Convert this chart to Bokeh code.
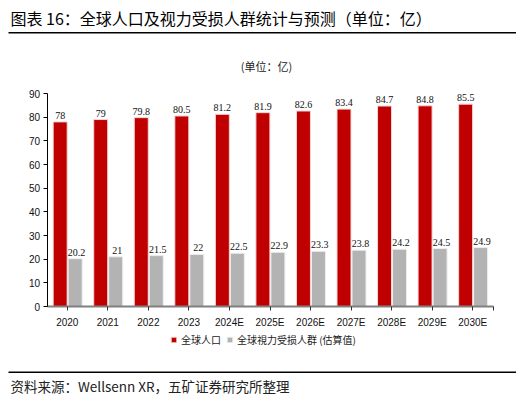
from bokeh.plotting import figure
from bokeh.models import (ColumnDataSource, Range1d, Legend, LegendItem,
                          LabelSet, Label, BoxAnnotation)
from bokeh.transform import dodge
from bokeh.embed import file_html
from bokeh.resources import INLINE

# data (亿)
years = ["2020", "2021", "2022", "2023", "2024E", "2025E", "2026E",
         "2027E", "2028E", "2029E", "2030E"]
population = [78, 79, 79.8, 80.5, 81.2, 81.9, 82.6, 83.4, 84.7, 84.8, 85.5]
impaired = [20.2, 21, 21.5, 22, 22.5, 22.9, 23.3, 23.8, 24.2, 24.5, 24.9]
y_ticks = [0, 10, 20, 30, 40, 50, 60, 70, 80, 90]

CJK = "Noto Sans CJK SC"
NUM = "Liberation Sans"
RED = "#C00000"
GRAY = "#B3B3B3"

W, H = 516, 396
# pixel box of the bar area inside the canvas
PX_LEFT, PX_RIGHT, PX_TOP, PX_BOTTOM = 46.5, 492.5, 93, 306
n = len(years)
x_per_px = n / (PX_RIGHT - PX_LEFT)
y_per_px = 90 / (PX_BOTTOM - PX_TOP)

pos = [i + 0.5 for i in range(n)]  # category centres on a linear scale
source = ColumnDataSource(data=dict(
    x=pos,
    pop=population,
    imp=impaired,
    pop_lbl=[f"{v:g}" for v in population],
    imp_lbl=[f"{v:g}" for v in impaired],
))

# the frame covers the whole canvas so that titles, legend and rules can be drawn in it
p = figure(x_range=Range1d(-PX_LEFT * x_per_px, n + (W - PX_RIGHT) * x_per_px),
           y_range=Range1d(-(H - PX_BOTTOM) * y_per_px, 90 + PX_TOP * y_per_px),
           width=W, height=H, output_backend="svg", toolbar_location=None,
           min_border=0)

r1 = p.vbar(x=dodge("x", -0.175), top="pop", width=0.345,
            source=source, fill_color=RED, line_color="#f3d6d6", line_width=1)
r2 = p.vbar(x=dodge("x", 0.195), top="imp", width=0.345,
            source=source, fill_color=GRAY, line_color="#eeeeee", line_width=1)

p.add_layout(LabelSet(x=dodge("x", -0.175), y="pop", text="pop_lbl",
                      source=source, text_align="center", text_baseline="bottom",
                      y_offset=3, text_font=NUM, text_font_size="10px",
                      text_color="#111111"))
p.add_layout(LabelSet(x=dodge("x", 0.23), y="imp", text="imp_lbl",
                      source=source, text_align="center", text_baseline="bottom",
                      y_offset=3, text_font=NUM, text_font_size="10px",
                      text_color="#111111"))

p.xgrid.visible = False
p.ygrid.visible = False
p.outline_line_color = None

p.yaxis.fixed_location = 0
p.yaxis.bounds = (0, 90)
p.yaxis.ticker = y_ticks
p.yaxis.axis_line_color = "#000000"
p.yaxis.major_tick_line_color = "#000000"
p.yaxis.major_tick_out = 4
p.yaxis.major_tick_in = 0
p.yaxis.minor_tick_line_color = None
p.yaxis.major_label_text_font = NUM
p.yaxis.major_label_text_font_size = "10px"
p.yaxis.major_label_text_color = "#111111"
p.yaxis.major_label_standoff = 3

p.xaxis.fixed_location = 0
p.xaxis.bounds = (0, n)
p.xaxis.ticker = pos + [n]
p.xaxis.major_label_overrides = {**{c: y for c, y in zip(pos, years)}, n: ""}
p.xaxis.axis_line_color = "#808080"
p.xaxis.axis_line_width = 2
p.xaxis.major_tick_line_color = "#333333"
p.xaxis.major_tick_out = 4
p.xaxis.major_tick_in = 0
p.xaxis.minor_tick_line_color = None
p.xaxis.major_label_text_font = NUM
p.xaxis.major_label_text_font_size = "10px"
p.xaxis.major_label_text_color = "#111111"
p.xaxis.major_label_standoff = 6

legend = Legend(items=[LegendItem(label="全球人口", renderers=[r1]),
                       LegendItem(label="全球視力受损人群 (估算值)", renderers=[r2])],
                orientation="horizontal", location=(170, 49))
legend.label_text_font = CJK
legend.label_text_font_size = "10px"
legend.label_text_color = "#222222"
legend.glyph_width = 7
legend.glyph_height = 7
legend.label_standoff = 4
legend.spacing = 5
legend.padding = 2
legend.margin = 0
legend.border_line_color = None
legend.background_fill_alpha = 0
p.add_layout(legend)

# titles, source and rules (screen pixels from the bottom-left corner)
p.add_layout(Label(x=10, y=H - 17, x_units="screen", y_units="screen",
                   text="图表 16：全球人口及视力受损人群统计与预测（单位：亿）",
                   text_font=CJK, text_font_size="16px", text_color="#000000",
                   text_baseline="middle", text_align="left"))
p.add_layout(BoxAnnotation(left=8, right=W, top=H - 31.5, bottom=H - 33,
                           left_units="screen", right_units="screen",
                           top_units="screen", bottom_units="screen",
                           fill_color="#000000", fill_alpha=1, line_color=None))
p.add_layout(Label(x=266, y=H - 65, x_units="screen", y_units="screen",
                   text="(单位：亿)", text_font=CJK, text_font_size="11px",
                   text_color="#222222", text_baseline="middle", text_align="center"))
p.add_layout(BoxAnnotation(left=8, right=W, top=H - 371, bottom=H - 372.5,
                           left_units="screen", right_units="screen",
                           top_units="screen", bottom_units="screen",
                           fill_color="#000000", fill_alpha=1, line_color=None))
p.add_layout(Label(x=10, y=H - 385, x_units="screen", y_units="screen",
                   text="资料来源：Wellsenn XR，五矿证券研究所整理",
                   text_font=CJK, text_font_size="13.5px", text_color="#222222",
                   text_baseline="middle", text_align="left"))

open("out.html", "w").write(file_html(p, INLINE))
